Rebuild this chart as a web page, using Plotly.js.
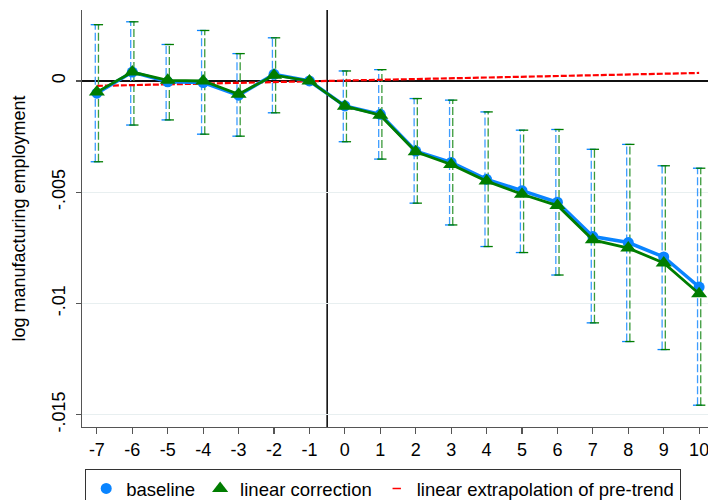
<!DOCTYPE html>
<html>
<head>
<meta charset="utf-8">
<script src="https://cdn.plot.ly/plotly-3.0.1.min.js"></script>
<style>html,body{margin:0;padding:0;background:#fff;}#chart{width:708px;height:500px;}</style>
</head>
<body>
<div id="chart"></div>
<script>
// ---- data ----
var periods = [-7,-6,-5,-4,-3,-2,-1,0,1,2,3,4,5,6,7,8,9,10];
var tickLabels = ['-7','-6','-5','-4','-3','-2','-1','0','1','2','3','4','5','6','7','8','9','10'];
var baseline = [-0.00055,0.0004,-0.00004,-0.00007,-0.00064,0.0003,0,-0.00112,-0.0015,-0.00315,-0.00366,-0.00442,-0.00493,-0.00545,-0.00699,-0.00726,-0.00791,-0.00926];
var linearCorr = [-0.0005,0.0004,0.00003,0,-0.0006,0.00026,0,-0.00113,-0.00154,-0.00318,-0.00375,-0.0045,-0.00509,-0.0056,-0.00714,-0.00751,-0.00818,-0.00956];
var baselineHi = [0.00253,0.00266,0.00164,0.00227,0.00123,0.00194,null,0.00045,0.00051,-0.00079,-0.00086,-0.00139,-0.00221,-0.00218,-0.00307,-0.00285,-0.00381,-0.00392];
var baselineLo = [-0.00363,-0.00198,-0.00175,-0.00239,-0.00248,-0.00143,null,-0.00273,-0.00351,-0.00549,-0.00647,-0.00744,-0.00771,-0.00872,-0.01087,-0.01171,-0.01207,-0.01457];
var linearHi = [0.00253,0.00266,0.00164,0.00227,0.00123,0.00194,null,0.00045,0.00051,-0.00079,-0.00086,-0.00139,-0.00221,-0.00218,-0.00307,-0.00285,-0.00381,-0.00392];
var linearLo = [-0.00363,-0.00198,-0.00175,-0.00239,-0.00248,-0.00143,null,-0.00273,-0.00351,-0.00549,-0.00647,-0.00744,-0.00771,-0.00872,-0.01087,-0.01171,-0.01207,-0.01457];
var pretrendX = [-7, 10];
var pretrendY = [-0.00022, 0.00036];
var yTickVals = [0,-0.005,-0.01,-0.015];
var yTickText = ['0','-.005','-.01','-.015'];

// ---- styles ----
var BLUE = '#0a84ff', GREEN = '#007d00', RED = '#ff0000';
var FONT = 'Liberation Sans, Arial, sans-serif';

function ciTraces(lo, hi, shift, color, lightColor) {
  var bx = [], by = [], cx = [], cy = [];
  var cw = 0.13;
  for (var i = 0; i < periods.length; i++) {
    if (hi[i] === null || lo[i] === null) continue;
    var p = periods[i] + shift;
    bx.push(p, p, null); by.push(lo[i], hi[i], null);
    cx.push(p - cw, p + cw, null, p - cw, p + cw, null);
    cy.push(hi[i], hi[i], null, lo[i], lo[i], null);
  }
  return [
    {x: bx, y: by, mode: 'lines', type: 'scatter', showlegend: false, hoverinfo: 'skip',
     line: {color: lightColor, width: 1.3, dash: '8px,3px'}},
    {x: cx, y: cy, mode: 'lines', type: 'scatter', showlegend: false, hoverinfo: 'skip',
     line: {color: color, width: 1.3}}
  ];
}

var traces = [];
traces = traces.concat(ciTraces(baselineLo, baselineHi, -0.045, BLUE, '#3d9cff'));
traces = traces.concat(ciTraces(linearLo, linearHi, 0.045, GREEN, '#3a9a3a'));

traces.push({x: pretrendX, y: pretrendY, mode: 'lines', type: 'scatter', showlegend: false,
  line: {color: RED, width: 2.2, dash: '6px,2px'}});
traces.push({x: periods, y: baseline, mode: 'lines+markers', type: 'scatter', showlegend: false,
  line: {color: BLUE, width: 3.5}, marker: {symbol: 'circle', size: 11, color: BLUE}});
traces.push({x: periods, y: linearCorr, mode: 'lines+markers', type: 'scatter', showlegend: false,
  line: {color: GREEN, width: 2.8}, marker: {symbol: 'triangle-up', size: 14, color: GREEN}});

// legend-only entries
traces.push({x: [null], y: [null], mode: 'markers', type: 'scatter', name: 'baseline',
  marker: {symbol: 'circle', size: 11, color: BLUE}});
traces.push({x: [null], y: [null], mode: 'markers', type: 'scatter', name: 'linear correction',
  marker: {symbol: 'triangle-up', size: 14, color: GREEN}});
traces.push({x: [null], y: [null], mode: 'markers', type: 'scatter', name: 'linear extrapolation of pre-trend',
  marker: {symbol: 'line-ew-open', size: 6, color: RED, line: {color: RED, width: 1.5}}});

var layout = {
  width: 708, height: 500,
  margin: {l: 82, r: 0, t: 10, b: 73, pad: 0, autoexpand: false},
  paper_bgcolor: '#fff', plot_bgcolor: '#fff',
  font: {family: FONT, size: 17, color: '#000'},
  showlegend: true,
  legend: {orientation: 'h', x: (85-82)/626, y: -0.1, xanchor: 'left', yanchor: 'top',
    font: {family: FONT, size: 18.5, color: '#000'}, bgcolor: '#fff',
    bordercolor: '#333', borderwidth: 1.2,
    itemwidth: 30, traceorder: 'normal'},
  xaxis: {range: [-7.42, 10.25], tickmode: 'array', tickvals: periods, ticktext: tickLabels,
    ticklabeloverflow: 'allow',
    showgrid: false, zeroline: false, showline: true, linecolor: '#555', linewidth: 1.3,
    ticks: 'outside', ticklen: 6, tickcolor: '#555', tickwidth: 1.2,
    tickfont: {family: FONT, size: 18, color: '#000'}},
  yaxis: {range: [-0.01555, 0.00319], tickmode: 'array', tickvals: yTickVals, ticktext: yTickText,
    tickangle: -90, showgrid: true, gridcolor: '#e8eff0', gridwidth: 1,
    zeroline: true, zerolinecolor: '#111', zerolinewidth: 2,
    showline: true, linecolor: '#555', linewidth: 1.3,
    ticks: 'outside', ticklen: 5, tickcolor: '#555', tickwidth: 1.2, ticklabelstandoff: 4,
    tickfont: {family: FONT, size: 18, color: '#000'},
    title: {text: 'log manufacturing employment', font: {family: FONT, size: 18, color: '#000'}, standoff: 18}},
  shapes: [
    {type: 'line', xref: 'x', yref: 'paper', x0: -0.5, x1: -0.5, y0: 0, y1: 1,
     line: {color: '#000', width: 1.5}, layer: 'between'}
  ]
};

Plotly.newPlot('chart', traces, layout, {staticPlot: true, displayModeBar: false});
</script>
</body>
</html>
